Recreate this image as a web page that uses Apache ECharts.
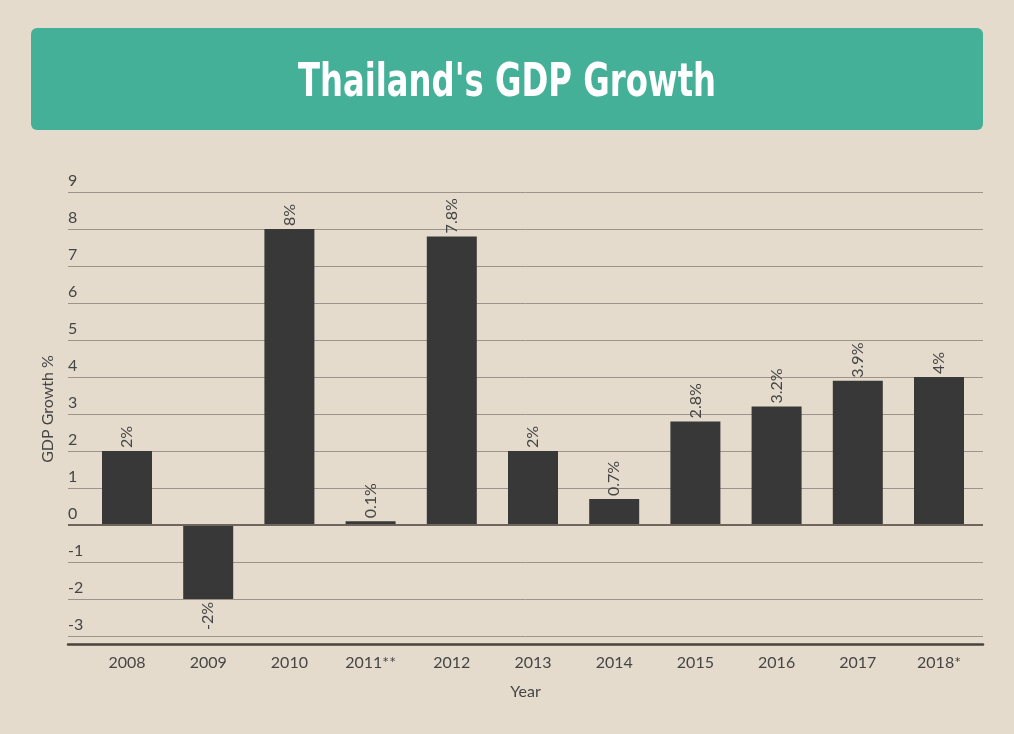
<!DOCTYPE html>
<html>
<head>
<meta charset="utf-8">
<title>Thailand's GDP Growth</title>
<script src="https://cdn.jsdelivr.net/npm/echarts@6/dist/echarts.min.js"></script>
<style>
  html, body { margin: 0; padding: 0; background: #E4DBCD; }
  #chart { width: 1014px; height: 734px; }
</style>
</head>
<body>
<div id="chart"></div>
<script>
// 数据
const years = ['2008', '2009', '2010', '2011**', '2012', '2013', '2014', '2015', '2016', '2017', '2018*']
const growth = [2, -2, 8, 0.1, 7.8, 2, 0.7, 2.8, 3.2, 3.9, 4]
const yTicks = [-3, 9]

// 颜色
const BG_COLOR = '#E4DBCD'
const BANNER_COLOR = '#45B098'
const BAR_COLOR = '#383838'
const GRID_COLOR = '#9C948A'
const TEXT_COLOR = '#454545'
const BODY_FONT = 'Lato, "Open Sans", sans-serif'
const TITLE_FONT = '"Liberation Sans Narrow", "DejaVu Sans Condensed", sans-serif'

const chart = echarts.init(document.getElementById('chart'))

chart.setOption({
  backgroundColor: BG_COLOR,
  animation: false,
  graphic: [
    {
      type: 'rect',
      shape: { x: 31, y: 28, width: 952, height: 102, r: 6 },
      style: { fill: BANNER_COLOR }
    },
    {
      // 标题（字体偏宽，横向压缩一下）
      type: 'text',
      x: 507,
      y: 84,
      scaleX: 0.78,
      style: {
        text: "Thailand's GDP Growth",
        fill: '#FFFFFF',
        font: 'bold 46px ' + TITLE_FONT,
        textAlign: 'center',
        textVerticalAlign: 'middle'
      }
    },
    {
      type: 'text',
      x: 48,
      y: 409,
      rotation: Math.PI / 2,
      style: {
        text: 'GDP Growth %',
        fill: TEXT_COLOR,
        font: '16px ' + BODY_FONT,
        textAlign: 'center',
        textVerticalAlign: 'middle'
      }
    }
  ],
  grid: [
    // 网格线用（更宽）
    { left: 68, right: 31, top: 192, bottom: 98 },
    // 柱子用
    { left: 86.4, right: 34.4, top: 192, bottom: 98 }
  ],
  xAxis: [
    {
      gridIndex: 0,
      type: 'value',
      min: 0,
      max: 1,
      offset: 8,
      name: 'Year',
      nameLocation: 'middle',
      nameGap: 40,
      nameTextStyle: { color: TEXT_COLOR, fontSize: 16, fontFamily: BODY_FONT },
      axisLine: { show: true, onZero: false, lineStyle: { color: '#48433D', width: 2.5 } },
      axisTick: { show: false },
      axisLabel: { show: false },
      splitLine: { show: false }
    },
    {
      gridIndex: 1,
      type: 'category',
      data: years,
      axisLine: { show: false, onZero: false },
      axisTick: { show: false },
      axisLabel: { color: TEXT_COLOR, fontSize: 16, fontFamily: BODY_FONT, margin: 19 }
    }
  ],
  yAxis: [
    {
      gridIndex: 0,
      type: 'value',
      min: yTicks[0],
      max: yTicks[1],
      interval: 1,
      axisLine: { show: false },
      axisTick: { show: false },
      axisLabel: {
        inside: true,
        margin: 0,
        align: 'left',
        verticalAlign: 'bottom',
        padding: [0, 0, 3, 0],
        color: TEXT_COLOR,
        fontSize: 16,
        fontFamily: BODY_FONT
      },
      splitLine: { show: true, lineStyle: { color: GRID_COLOR, width: 1 } }
    },
    {
      gridIndex: 1,
      type: 'value',
      min: yTicks[0],
      max: yTicks[1],
      interval: 1,
      show: false,
      splitLine: { show: false }
    }
  ],
  series: [
    {
      // 零线
      type: 'line',
      xAxisIndex: 0,
      yAxisIndex: 0,
      data: [],
      markLine: {
        silent: true,
        symbol: 'none',
        label: { show: false },
        lineStyle: { color: '#6E665C', width: 2, type: 'solid' },
        data: [{ yAxis: 0 }]
      }
    },
    {
      type: 'bar',
      xAxisIndex: 1,
      yAxisIndex: 1,
      barWidth: 50,
      itemStyle: { color: BAR_COLOR },
      data: growth.map(v => ({
        value: v,
        label: v < 0
          ? { position: 'bottom', align: 'right' }
          : { position: 'top', align: 'left' }
      })),
      label: {
        show: true,
        rotate: 90,
        distance: 3,
        verticalAlign: 'middle',
        formatter: '{c}%',
        color: TEXT_COLOR,
        fontSize: 16,
        fontFamily: BODY_FONT
      }
    }
  ]
})
</script>
</body>
</html>
